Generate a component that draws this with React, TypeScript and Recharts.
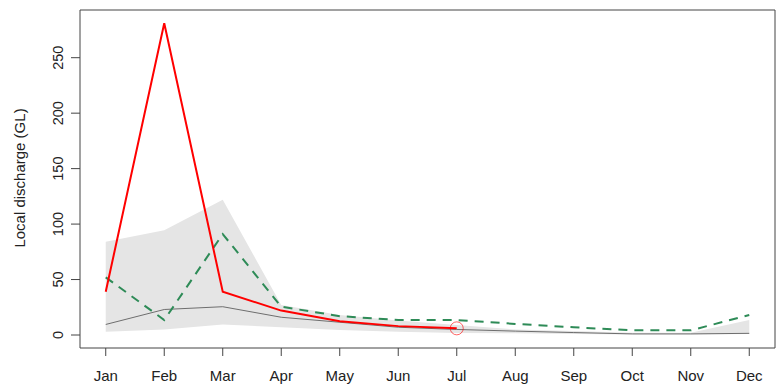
import React from 'react';
import {
  ComposedChart,
  Line,
  Area,
  XAxis,
  YAxis,
  ReferenceArea,
  ReferenceDot,
} from 'recharts';

const months = ['Jan', 'Feb', 'Mar', 'Apr', 'May', 'Jun', 'Jul', 'Aug', 'Sep', 'Oct', 'Nov', 'Dec'];
const observed: (number | null)[] = [39, 281, 39, 22, 12.5, 8, 6, null, null, null, null, null];
const median = [9.5, 23, 25.5, 16, 11.5, 7, 5, 3.5, 2.2, 1, 1, 1.5];
const comparison = [52, 13.5, 91, 25.5, 17, 13.5, 13.5, 10, 7, 4.2, 4.2, 18];
const bandHigh = [84, 94.5, 122, 27, 18, 13, 9, 5, 3.5, 2, 2, 13.5];
const bandLow = [3, 5, 9.5, 7, 4.5, 3, 1.8, 1.5, 1, 0.5, 0.5, 1];
const yTicks = [0, 50, 100, 150, 200, 250];
const xTicks = months.map((_, i) => i + 1);
const latestIndex = 6;

const data = months.map((name, i) => ({
  m: i + 1,
  name,
  obs: observed[i],
  med: median[i],
  cmp: comparison[i],
  band: [bandLow[i], bandHigh[i]],
}));

const FONT = '"Liberation Sans", Arial, sans-serif';
const TEXT = '#222';
const BOX = '#444';

const YTick = (props: any) => {
  const { y, payload } = props;
  const x = 63;
  return (
    <text
      x={x}
      y={y}
      transform={`rotate(-90, ${x}, ${y})`}
      textAnchor="middle"
      fontFamily={FONT}
      fontSize={14.5}
      fill={TEXT}
    >
      {payload.value}
    </text>
  );
};

const XTick = (props: any) => {
  const { x, payload } = props;
  return (
    <text x={x} y={381} textAnchor="middle" fontFamily={FONT} fontSize={15} fill={TEXT}>
      {months[payload.value - 1]}
    </text>
  );
};

const YTitle = () => (
  <text
    x={25}
    y={178}
    transform="rotate(-90, 25, 178)"
    textAnchor="middle"
    fontFamily={FONT}
    fontSize={15}
    fill={TEXT}
  >
    Local discharge (GL)
  </text>
);

export default function App() {
  return (
    <div style={{ position: 'absolute', left: 0, top: 0, background: '#fff' }}>
      <ComposedChart
        width={780}
        height={385}
        data={data}
        margin={{ top: 10, right: 5, bottom: 0, left: 20 }}
      >
        <XAxis
          dataKey="m"
          type="number"
          domain={[0.56, 12.44]}
          ticks={xTicks}
          allowDataOverflow
          height={37}
          axisLine={false}
          tickLine={{ stroke: BOX }}
          tickSize={8}
          tick={<XTick />}
          interval={0}
        />
        <YAxis
          type="number"
          domain={[-11.72, 293]}
          ticks={yTicks}
          allowDataOverflow
          width={60}
          axisLine={false}
          tickLine={{ stroke: BOX }}
          tickSize={9}
          tick={<YTick />}
          interval={0}
          label={{ content: () => <YTitle /> }}
        />
        <Area
          dataKey="band"
          type="linear"
          stroke="none"
          fill="#E5E5E5"
          fillOpacity={1}
          isAnimationActive={false}
          activeDot={false}
          dot={false}
        />
        <Line
          dataKey="med"
          type="linear"
          stroke="#6E6E6E"
          strokeWidth={1}
          dot={false}
          activeDot={false}
          isAnimationActive={false}
        />
        <Line
          dataKey="cmp"
          type="linear"
          stroke="#2E8B57"
          strokeWidth={2}
          strokeDasharray="9 7"
          dot={false}
          activeDot={false}
          isAnimationActive={false}
        />
        <Line
          dataKey="obs"
          type="linear"
          stroke="#FF0000"
          strokeWidth={2}
          dot={false}
          activeDot={false}
          connectNulls={false}
          isAnimationActive={false}
        />
        <ReferenceDot
          x={latestIndex + 1}
          y={observed[latestIndex] as number}
          r={6.5}
          fill="none"
          stroke="#FF0000"
          strokeOpacity={0.6}
          strokeWidth={1}
        />
        <ReferenceArea
          x1={0.56}
          x2={12.44}
          y1={-11.72}
          y2={293}
          fill="none"
          stroke={BOX}
          strokeWidth={1}
          ifOverflow="visible"
        />
      </ComposedChart>
    </div>
  );
}
